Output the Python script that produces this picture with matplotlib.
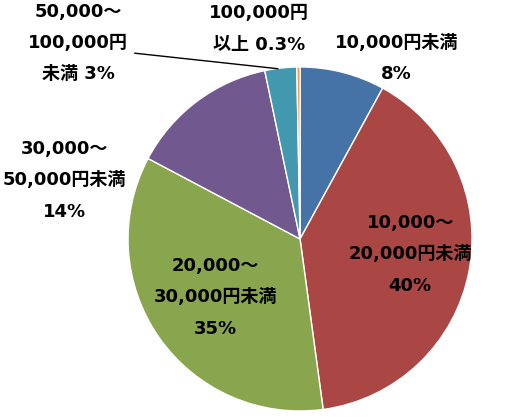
import matplotlib
matplotlib.use('Agg')
import matplotlib.pyplot as plt

plt.rcParams['font.family'] = ['DejaVu Sans', 'Noto Sans CJK JP']

labels = ['10,000円未満\n8%', '10,000～\n20,000円未満\n40%', '20,000～\n30,000円未満\n35%',
          '30,000～\n50,000円未満\n14%', '50,000～\n100,000円\n未満 3%', '100,000円\n以上 0.3%']
values = [8, 40, 35, 14, 3, 0.3]
colors = ['#4572A7', '#AA4643', '#89A54E', '#71588F', '#4198AF', '#F79646']

# label centers in data coords (pie radius 1)
label_pos = [(0.56, 1.05), (0.64, -0.09), (-0.49, -0.34),
             (-1.37, 0.34), (-1.29, 1.14), (-0.24, 1.22)]

fig = plt.figure(figsize=(5.16, 4.17), dpi=100)
ax = fig.add_axes([0.248, 0.0144, 0.667, 0.825])
ax.pie(values, colors=colors, startangle=90, counterclock=False, radius=1,
       wedgeprops=dict(edgecolor='white', linewidth=1))
ax.set_xlim(-1, 1)
ax.set_ylim(-1, 1)

for lab, (x, y) in zip(labels, label_pos):
    ax.text(x, y, lab, ha='center', va='center', fontsize=13, fontweight='bold',
            linespacing=1.95, clip_on=False)

# leader line for the 3% slice
ax.plot([-0.96, -0.13], [1.08, 0.99], color='black', lw=1, clip_on=False)

fig.savefig('out.png', dpi=100)
